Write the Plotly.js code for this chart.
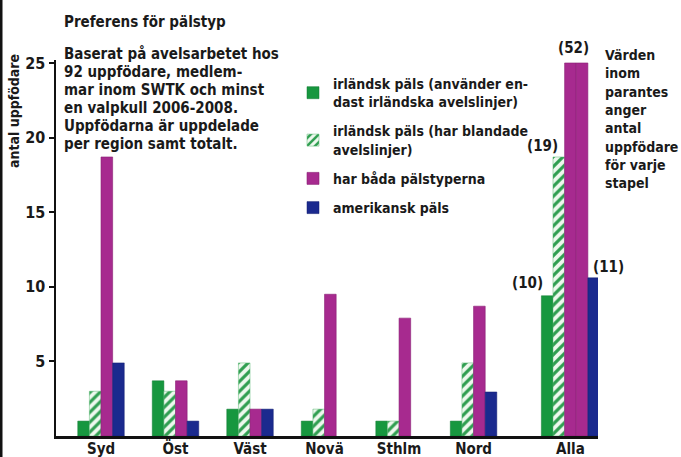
<!DOCTYPE html>
<html>
<head>
<meta charset="utf-8">
<script src="https://cdn.plot.ly/plotly-3.0.1.min.js"></script>
<style>
  body { margin: 0; background: #fff; }
  #plot { width: 681px; height: 457px; }
</style>
</head>
<body>
<div id="plot"></div>
<script>
// Data
var regions = ["Syd", "Öst", "Väst", "Novä", "Sthlm", "Nord", "Alla"];
var irishPure = [1, 3.7, 1.8, 1, 1, 1, 9.4];
var irishMixed = [3, 3, 4.9, 1.8, 1, 4.9, 18.7];
var bothTypes = [18.7, 3.7, 1.8, 9.5, 7.9, 8.7, 25];
var american = [4.9, 1, 1.8, null, null, 2.95, 10.6];
var allaCounts = ["(10)", "(19)", "(52)", "(11)"];
var seriesNames = [
  "irländsk päls (använder en-<br>dast irländska avelslinjer)",
  "irländsk päls (har blandade<br>avelslinjer)",
  "har båda pälstyperna",
  "amerikansk päls"
];
var yTicks = [5, 10, 15, 20, 25];
var introLines = [
  "Baserat på avelsarbetet hos",
  "92 uppfödare, medlem-",
  "mar inom SWTK och minst",
  "en valpkull 2006-2008.",
  "Uppfödarna är uppdelade",
  "per region samt totalt."
];
var noteLines = ["Värden", "inom", "parantes", "anger", "antal", "uppfödare", "för varje", "stapel"];

// Layout helpers
var FONT = '"DejaVu Sans Condensed", "Liberation Sans Narrow", sans-serif';
var ML = 56, MR = 83, MT = 60, MB = 21, W = 681, H = 457;
var PW = W - ML - MR, PH = H - MT - MB;
function px2x(px) { return (px - ML) / PW; }
function py2y(py) { return (H - MB - py) / PH; }

var isAlla = regions.map(function (r) { return r === "Alla"; });
var groupPos = regions.map(function (r, i) { return isAlla[i] ? 6.3 : i; });
var allaPos = groupPos[regions.length - 1];
var BW = 0.156;

var green = "#17973f", magenta = "#a72a8f", blue = "#1b2a8e";
var textCol = "#1a1a1a";

function offs(normal, alla) {
  return isAlla.map(function (a) { return a ? alla * BW : normal * BW; });
}

var tGreen = {
  type: "bar", name: seriesNames[0], legendgroup: "g1", x: groupPos, y: irishPure,
  offset: offs(-2, -2.5), width: BW,
  marker: { color: green, line: { color: "#0f7a30", width: 0.5 } }
};
var tMixed = {
  type: "bar", name: seriesNames[1], legendgroup: "g2", x: groupPos, y: irishMixed,
  offset: offs(-1, -1.5), width: BW,
  marker: {
    color: "#eef8ee",
    line: { color: "#5cb874", width: 0.5 },
    pattern: { shape: "/", fgcolor: "#2f9e50", bgcolor: "#eef8ee", size: 7, solidity: 0.45 }
  }
};
var tBoth = {
  type: "bar", name: seriesNames[2], legendgroup: "g3", x: groupPos, y: bothTypes,
  offset: offs(0, -0.5), width: BW,
  marker: { color: magenta, line: { color: "#8a1f74", width: 0.6 } }
};
// second half of the wide magenta bar for Alla (52 breeders)
var tBoth2 = {
  type: "bar", name: seriesNames[2], legendgroup: "g3",
  x: [allaPos], y: [bothTypes[bothTypes.length - 1]],
  offset: 0.5 * BW, width: BW, showlegend: false,
  marker: { color: magenta, line: { color: "#8a1f74", width: 0.6 } }
};
var tAmerican = {
  type: "bar", name: seriesNames[3], legendgroup: "g4", x: groupPos, y: american,
  offset: offs(1, 1.5), width: BW,
  marker: { color: blue, line: { color: "#121e70", width: 0.5 } }
};

var data = [tGreen, tMixed, tBoth, tBoth2, tAmerican];

var annotations = [];
// title
annotations.push({
  text: "Preferens för pälstyp", xref: "paper", yref: "paper",
  x: px2x(62), y: py2y(22), xanchor: "left", yanchor: "middle", showarrow: false,
  font: { family: FONT, size: 15, weight: "bold", color: textCol }
});
introLines.forEach(function (line, i) {
  annotations.push({
    text: line, xref: "paper", yref: "paper",
    x: px2x(62), y: py2y(54 + i * 18), xanchor: "left", yanchor: "middle", showarrow: false,
    font: { family: FONT, size: 15, weight: "bold", color: textCol }
  });
});
noteLines.forEach(function (line, i) {
  annotations.push({
    text: line, xref: "paper", yref: "paper",
    x: px2x(603), y: py2y(55 + i * 18.3), xanchor: "left", yanchor: "middle", showarrow: false,
    font: { family: FONT, size: 14, weight: "bold", color: textCol }
  });
});
// y axis title
annotations.push({
  text: "antal uppfödare", xref: "paper", yref: "paper",
  x: px2x(14), y: py2y(111), xanchor: "center", yanchor: "middle",
  textangle: -90, showarrow: false,
  font: { family: FONT, size: 14, weight: "bold", color: textCol }
});
// counts above the Alla bars
var allaTops = [irishPure[6], irishMixed[6], bothTypes[6], american[6]];
var countShiftX = [-43, -28, 3, 38];
var countShiftY = [13, 11, 15, 11];
allaCounts.forEach(function (c, i) {
  annotations.push({
    text: c, xref: "x", yref: "y", x: allaPos, y: allaTops[i],
    xshift: countShiftX[i], yshift: countShiftY[i], showarrow: false,
    font: { family: FONT, size: 15, weight: "bold", color: textCol }
  });
});

var layout = {
  width: W, height: H,
  margin: { l: ML, r: MR, t: MT, b: MB },
  paper_bgcolor: "#ffffff", plot_bgcolor: "#ffffff",
  barmode: "overlay",
  showlegend: true,
  legend: {
    x: px2x(293), y: py2y(68), xanchor: "left", yanchor: "top",
    bgcolor: "rgba(0,0,0,0)", traceorder: "grouped", tracegroupgap: 8,
    font: { family: FONT, size: 14, weight: "bold", color: textCol }
  },
  xaxis: {
    range: [-0.604, 6.67],
    tickmode: "array", tickvals: groupPos, ticktext: regions,
    showline: true, linecolor: "#111", linewidth: 2.5,
    ticks: "", ticklabelstandoff: -3,
    showgrid: false, zeroline: false, fixedrange: true,
    tickfont: { family: FONT, size: 15, weight: "bold", color: textCol }
  },
  yaxis: {
    range: [0, 25.2],
    tickmode: "array", tickvals: yTicks,
    showline: true, linecolor: "#111", linewidth: 2.5,
    ticks: "outside", ticklen: 5, tickwidth: 2, tickcolor: "#111",
    showgrid: false, zeroline: false, fixedrange: true,
    tickfont: { family: FONT, size: 16, weight: "bold", color: textCol }
  },
  annotations: annotations,
  shapes: [{
    type: "line", xref: "paper", yref: "paper",
    x0: px2x(1), x1: px2x(1), y0: py2y(H), y1: py2y(0),
    line: { color: "#111", width: 3 }
  }]
};

Plotly.newPlot("plot", data, layout, { displayModeBar: false, staticPlot: true });
</script>
</body>
</html>
